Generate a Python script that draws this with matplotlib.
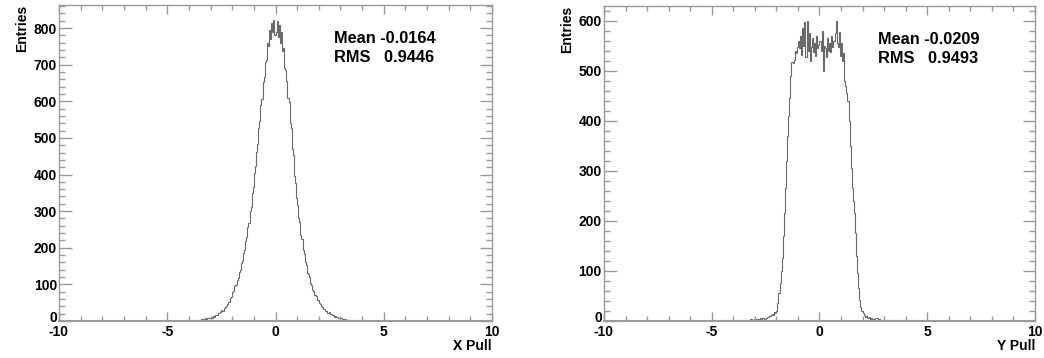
import numpy as np
import matplotlib.pyplot as plt
from matplotlib.ticker import MultipleLocator, FuncFormatter

plt.rcParams['font.family'] = ['Liberation Sans', 'DejaVu Sans']
plt.rcParams['font.weight'] = 'bold'
plt.rcParams['axes.unicode_minus'] = False

# ==============================
# Data (bin width 0.05, bins from -4.5 to 4.5; everything else is empty)
# ==============================
x_range = (-10, 10)
n_bins = 400
filled_from = -4.5

x_pull_neg = [
    0, 1, 0, 1, 0, 1, 1, 0, 2, 1,
    1, 2, 1, 3, 2, 2, 4, 2, 3, 4,
    3, 5, 4, 6, 4, 7, 6, 8, 9, 8,
    11, 9, 13, 12, 16, 15, 17, 21, 23, 24,
    29, 28, 36, 38, 41, 47, 52, 53, 64, 66,
    78, 81, 95, 98, 113, 118, 133, 138, 158, 165,
    185, 194, 219, 228, 256, 268, 299, 312, 350, 366,
    405, 422, 462, 484, 526, 545, 591, 606, 652, 665,
    706, 712, 760, 752, 795, 770, 815, 790, 822, 782,
]
x_pull_pos = [
    790, 818, 775, 808, 760, 790, 738, 745, 690, 685,
    655, 610, 598, 540, 528, 470, 452, 395, 378, 335,
    318, 280, 270, 235, 224, 193, 184, 160, 154, 132,
    128, 120, 104, 99, 85, 82, 70, 68, 58, 57,
    48, 47, 40, 39, 33, 33, 27, 28, 23, 24,
    19, 20, 16, 15, 12, 13, 10, 11, 8, 9,
    7, 6, 6, 4, 5, 3, 4, 3, 2, 3,
    3, 1, 2, 2, 1, 2, 1, 0, 1, 1,
    1, 0, 0, 1, 0, 0, 1, 0, 0, 0,
]

y_pull_neg = [
    0, 1, 0, 0, 1, 0, 1, 0, 1, 0,
    1, 0, 1, 1, 0, 1, 2, 1, 0, 1,
    1, 2, 1, 1, 2, 1, 3, 2, 2, 3,
    2, 3, 4, 3, 4, 5, 3, 5, 6, 4,
    6, 8, 7, 10, 9, 12, 14, 11, 18, 16,
    20, 35, 55, 75, 100, 125, 170, 215, 265, 320,
    370, 410, 445, 490, 518, 515, 522, 540, 535, 548,
    560, 545, 570, 532, 585, 550, 598, 528, 600, 540,
    575, 520, 548, 565, 538, 555, 530, 570, 545, 552,
]
y_pull_pos = [
    560, 540, 580, 500, 550, 545, 528, 565, 540, 555,
    538, 570, 548, 560, 575, 600, 555, 548, 578, 530,
    555, 520, 535, 480, 470, 455, 440, 400, 350, 305,
    265, 240, 215, 175, 130, 95, 65, 42, 28, 20,
    15, 12, 8, 10, 6, 5, 7, 4, 5, 3,
    4, 3, 5, 6, 2, 3, 2, 1, 2, 1,
    1, 2, 1, 0, 1, 1, 0, 1, 0, 1,
    0, 1, 0, 0, 1, 0, 0, 0, 1, 0,
    0, 0, 1, 0, 0, 0, 0, 1, 0, 0,
]

x_stats = ("Mean -0.0164", "RMS   0.9446")
y_stats = ("Mean -0.0209", "RMS   0.9493")

# ==============================
# Helpers
# ==============================
edges = np.linspace(x_range[0], x_range[1], n_bins + 1)
start = int(round((filled_from - x_range[0]) / (edges[1] - edges[0])))


def full_hist(neg, pos):
    counts = np.zeros(n_bins)
    vals = np.array(neg + pos, dtype=float)
    counts[start:start + len(vals)] = vals
    return counts


def root_panel(ax, counts, xlabel, stats, ymax):
    ax.stairs(counts, edges, color="#6a6a6a", lw=0.8)
    ax.set_xlim(*x_range)
    ax.set_ylim(0, ymax)
    for sp in ax.spines.values():
        sp.set_color("#9a9a9a")
        sp.set_linewidth(1.0)
    ax.spines["bottom"].set_linewidth(1.5)
    ax.xaxis.set_major_locator(MultipleLocator(5))
    ax.xaxis.set_minor_locator(MultipleLocator(1))
    ax.yaxis.set_major_locator(MultipleLocator(100))
    ax.yaxis.set_minor_locator(MultipleLocator(20))
    # the "0" of the y axis is drawn separately, a little higher (ROOT corner)
    ax.yaxis.set_major_formatter(
        FuncFormatter(lambda v, p: "" if v == 0 else f"{v:g}"))
    ax.tick_params(which="both", direction="in", top=True, right=True,
                   color="#9a9a9a", labelsize=10)
    ax.tick_params(axis="y", which="major", length=9, width=1, pad=1.5)
    ax.tick_params(axis="y", which="minor", length=4.5, width=1)
    ax.tick_params(axis="x", which="major", length=6.8, width=1, pad=3)
    ax.tick_params(axis="x", which="minor", length=3.4, width=1)
    ax.annotate("0", xy=(0, 0), xycoords="axes fraction",
                xytext=(-1.5, 2.5), textcoords="offset points",
                ha="right", va="center", fontsize=10, fontweight="bold")

    ax.set_xlabel(xlabel, fontsize=10, fontweight="bold", loc="right",
                  labelpad=0)
    ax.set_ylabel("Entries", fontsize=10, fontweight="bold", loc="top",
                  labelpad=3)
    ax.text(0.635, 0.895, stats[0], transform=ax.transAxes, fontsize=11.8,
            fontweight="bold", va="center", ha="left")
    ax.text(0.635, 0.833, stats[1], transform=ax.transAxes, fontsize=11.8,
            fontweight="bold", va="center", ha="left")


# ==============================
# Figure
# ==============================
fig = plt.figure(figsize=(10.44, 3.58), dpi=100)
ax1 = fig.add_axes([0.0565, 0.1034, 0.4148, 0.8827])
ax2 = fig.add_axes([0.5785, 0.1034, 0.4128, 0.8799])

root_panel(ax1, full_hist(x_pull_neg, x_pull_pos), "X Pull", x_stats, 863)
root_panel(ax2, full_hist(y_pull_neg, y_pull_pos), "Y Pull", y_stats, 630)

fig.savefig("out.png", dpi=100)
